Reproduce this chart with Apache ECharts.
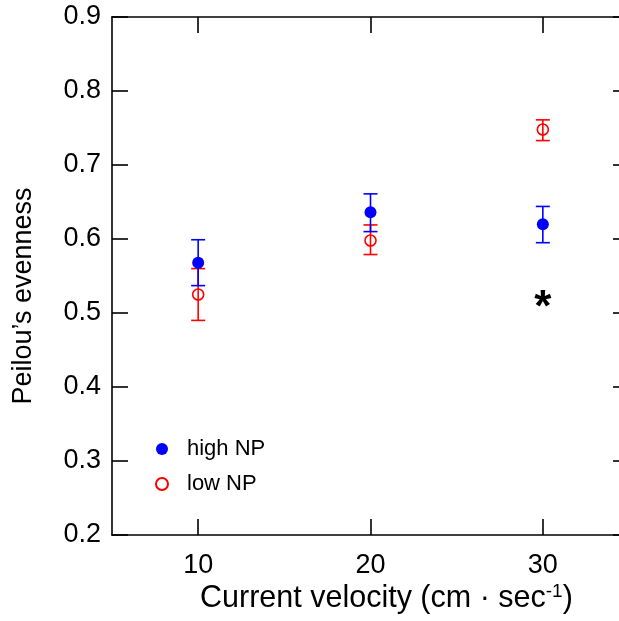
<!DOCTYPE html>
<html><head><meta charset="utf-8">
<script src="https://cdn.jsdelivr.net/npm/echarts@6/dist/echarts.min.js"></script>
<style>html,body{margin:0;padding:0;background:#fff}#c{width:619px;height:621px}</style>
</head><body><div id="c"></div>
<script>
const velocities = [10, 20, 30];
const highMean = [0.568, 0.636, 0.620];
const highLow  = [0.537, 0.610, 0.595];
const highHigh = [0.599, 0.661, 0.644];
const lowMean  = [0.525, 0.598, 0.748];
const lowLow   = [0.490, 0.579, 0.733];
const lowHigh  = [0.560, 0.619, 0.761];
const xTicks = [10, 20, 30];
const yTicks = [0.2, 0.3, 0.4, 0.5, 0.6, 0.7, 0.8, 0.9];
const sigMark = [[30, 0.518]];

const FONT = 'Liberation Sans, Arial, sans-serif';
const chart = echarts.init(document.getElementById('c'), null, {renderer: 'canvas'});

function errSeries(name, color, lo, hi) {
  return {
    type: 'custom', name: name + ' err', silent: true, z: 2,
    data: velocities.map((v, i) => [v, lo[i], hi[i]]),
    renderItem: function (params, api) {
      const x = api.value(0);
      const p1 = api.coord([x, api.value(1)]);
      const p2 = api.coord([x, api.value(2)]);
      const w = 7;
      const st = {stroke: color, lineWidth: 1.6};
      return {type: 'group', children: [
        {type: 'line', shape: {x1: p1[0], y1: p1[1], x2: p2[0], y2: p2[1]}, style: st},
        {type: 'line', shape: {x1: p1[0]-w, y1: p1[1], x2: p1[0]+w, y2: p1[1]}, style: st},
        {type: 'line', shape: {x1: p2[0]-w, y1: p2[1], x2: p2[0]+w, y2: p2[1]}, style: st}
      ]};
    }
  };
}

const axisLineStyle = {lineStyle: {color: '#000', width: 1.6}};
const tickStyle = {inside: true, length: 16, lineStyle: {color: '#000', width: 1.6}};

chart.setOption({
  animation: false,
  backgroundColor: '#fff',
  grid: {left: 112, width: 517, top: 17, bottom: 86, containLabel: false, outerBoundsMode: 'none'},
  xAxis: [
    {type: 'value', min: 5, max: 35, position: 'bottom',
     axisLine: axisLineStyle,
     axisTick: Object.assign({customValues: xTicks}, tickStyle),
     axisLabel: {customValues: xTicks, color: '#000', fontSize: 27, fontFamily: FONT, margin: 17},
     splitLine: {show: false}},
    {type: 'value', min: 5, max: 35, position: 'top',
     axisLine: axisLineStyle,
     axisTick: Object.assign({customValues: xTicks}, tickStyle),
     axisLabel: {show: false}, splitLine: {show: false}}
  ],
  yAxis: [
    {type: 'value', min: 0.2, max: 0.9, interval: 0.1, position: 'left',
     axisLine: {show: true, lineStyle: {color: '#000', width: 1.6}},
     axisTick: Object.assign({show: true}, tickStyle),
     axisLabel: {color: '#000', fontSize: 27, fontFamily: FONT, margin: 11,
                 formatter: v => v.toFixed(1)},
     splitLine: {show: false}},
    {type: 'value', min: 0.2, max: 0.9, interval: 0.1, position: 'right',
     axisLine: {show: true, lineStyle: {color: '#000', width: 1.6}},
     axisTick: Object.assign({show: true}, tickStyle),
     axisLabel: {show: false}, splitLine: {show: false}}
  ],
  legend: {
    orient: 'vertical', left: 150, top: 433, itemGap: 13, itemWidth: 14, itemHeight: 12,
    textStyle: {fontSize: 22, fontFamily: FONT, color: '#000', padding: [0, 0, 0, 13]},
    data: ['high NP', 'low NP']
  },
  series: [
    errSeries('low NP', '#ff0000', lowLow, lowHigh),
    errSeries('high NP', '#0000ff', highLow, highHigh),
    {type: 'scatter', name: 'low NP', z: 3, symbol: 'circle', symbolSize: 11,
     itemStyle: {color: 'rgba(255,255,255,0)', borderColor: '#ff0000', borderWidth: 1.6, opacity: 1},
     data: velocities.map((v, i) => [v, lowMean[i]])},
    {type: 'scatter', name: 'high NP', z: 4, symbol: 'circle', symbolSize: 12,
     itemStyle: {color: '#0000ff', opacity: 1},
     data: velocities.map((v, i) => [v, highMean[i]])},
    {type: 'scatter', name: 'sig', symbolSize: 0, silent: true,
     itemStyle: {opacity: 1},
     label: {show: true, position: 'inside', formatter: '*', color: '#000', opacity: 1,
             fontSize: 44, fontWeight: 'bold', fontFamily: FONT, offset: [0, 9]},
     data: sigMark}
  ],
  graphic: [
    {type: 'text', x: 200, y: 599,
     style: {rich: {a: {fontSize: 30.5, fontFamily: FONT, fill: '#000'},
                    s: {fontSize: 19, fontFamily: FONT, fill: '#000', padding: [0,0,14,0]}},
             text: '{a|Current velocity (cm · sec}{s|-1}{a|)}', fill: '#000',
             verticalAlign: 'middle'}},
    {type: 'text', x: 24, y: 296, rotation: Math.PI / 2,
     style: {text: 'Peilou’s evenness', fontSize: 27, fontFamily: FONT, fill: '#000',
             align: 'center', verticalAlign: 'middle'}}
  ]
});
</script>
</body></html>
